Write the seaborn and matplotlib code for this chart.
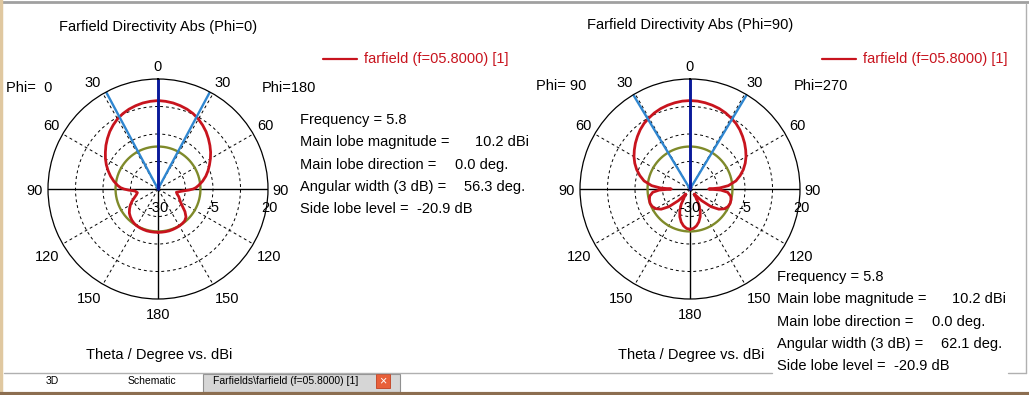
import numpy as np
import pandas as pd
import matplotlib
matplotlib.use("Agg")
import matplotlib.pyplot as plt
from matplotlib.patches import Rectangle
import seaborn as sns

# ---- data ----
theta_deg = [0, 5, 10, 15, 20, 25, 30, 35, 40, 45, 50, 55, 60, 65, 70, 75, 80, 85,
             88, 90, 92, 95, 100, 105, 110, 115, 120, 125, 130, 135, 140, 145,
             150, 155, 160, 165, 170, 175, 180]

# Phi=0 cut: left half (Phi=0) and right half (Phi=180), dBi
phi0_left = [10.2, 10.0, 9.7, 9.2, 8.6, 7.8, 6.8, 5.5, 4.1, 2.5, 0.9, -0.8, -2.4, -4.1,
             -5.9, -7.7, -9.6, -11.6, -13.0, -14.5, -16.5, -19.5, -20.5, -19.8, -18.6,
             -17.0, -15.5, -14.2, -13.0, -12.2, -11.5, -11.0, -10.7, -10.5, -10.4,
             -10.3, -10.3, -10.3, -10.3]
phi0_right = [10.2, 10.0, 9.7, 9.2, 8.6, 7.8, 6.7, 5.4, 4.0, 2.4, 0.8, -0.8, -2.5, -4.2,
              -5.8, -7.5, -9.4, -11.5, -12.8, -14.0, -16.0, -19.0, -21.5, -21.0, -20.0,
              -19.2, -18.2, -16.5, -14.0, -12.0, -11.1, -10.8, -10.6, -10.5, -10.4,
              -10.3, -10.3, -10.3, -10.3]

# Phi=90 cut: left half (Phi=90) and right half (Phi=270), dBi
phi90_left = [10.2, 10.1, 9.8, 9.4, 8.9, 8.2, 7.3, 6.4, 5.2, 3.8, 2.4, 0.9, -0.6, -2.3,
              -4.2, -6.4, -8.8, -12.5, -16.5, -21.5, -16.0, -13.0, -11.4, -10.9, -10.7,
              -11.1, -12.1, -14.0, -17.5, -22.5, -27.0, -25.5, -22.0, -19.0, -16.5,
              -14.5, -13.0, -12.0, -11.7]
phi90_right = [10.2, 10.1, 9.8, 9.4, 8.9, 8.2, 7.3, 6.4, 5.2, 3.8, 2.4, 0.9, -0.6, -2.3,
               -4.2, -6.4, -8.8, -12.5, -16.5, -21.5, -16.0, -12.8, -11.2, -10.7, -10.6,
               -11.0, -12.0, -14.0, -17.5, -22.5, -27.0, -25.5, -22.0, -19.0, -16.5,
               -14.5, -13.0, -12.0, -11.7]

frequency = 5.8
main_lobe_mag = [10.2, 10.2]
main_lobe_dir = [0.0, 0.0]
angular_width = [56.3, 62.1]
side_lobe_level = [-20.9, -20.9]

titles = ["Farfield Directivity Abs (Phi=0)", "Farfield Directivity Abs (Phi=90)"]
phi_labels = [("Phi=  0", "Phi=180"), ("Phi= 90", "Phi=270")]
legend_label = "farfield (f=05.8000) [1]"
r_min, r_mid, r_max = -30, -5, 20
angle_ticks = [0, 30, 60, 90, 120, 150, 180]
# pixel offset of each angle label from the plot centre (right-hand side)
label_offsets = {0: (0, -122), 30: (65, -106), 60: (107, -63), 90: (123, 2),
                 120: (111, 68), 150: (69, 110), 180: (0, 126)}

W, H = 1029, 395
RED = "#c8141e"
OLIVE = "#7f8a2a"
NAVY = "#0a1a9a"
LBLUE = "#2f86d0"

sns.set_style("white")
plt.rcParams["font.family"] = ["Liberation Sans", "DejaVu Sans"]
FS = 10.5


def P(x, y):
    return x / W, 1 - y / H


fig = plt.figure(figsize=(W / 100, H / 100), dpi=100)
fig.patch.set_facecolor("white")


def txt(x, y, s, ha="left", color="black", size=FS):
    fig.text(*P(x, y), s, ha=ha, va="center", color=color, fontsize=size)


panels = [
    dict(cx=158, cy=189, left=phi0_left, right=phi0_right,
         title_y=27, stats_x=300, stats_y=120, leg_x=323, phi_y=88,
         phi_lx=6, phi_rx=262),
    dict(cx=690, cy=189, left=phi90_left, right=phi90_right,
         title_y=25, stats_x=777, stats_y=277, leg_x=822, phi_y=86,
         phi_lx=536, phi_rx=794),
]

R = 110
for i, p in enumerate(panels):
    cx, cy = p["cx"], p["cy"]
    x0, y0 = P(cx - R, cy + R)
    ax = fig.add_axes([x0, y0, 2 * R / W, 2 * R / H], projection="polar")
    ax.set_theta_zero_location("N")
    ax.set_ylim(r_min, r_max)
    ax.set_rgrids([-17.5, -5, 7.5], labels=[])
    ax.set_thetagrids([30, 60, 120, 150, 210, 240, 300, 330], labels=[])
    ax.grid(True, color="black", linestyle=(0, (3, 3)), linewidth=0.7)
    ax.spines["polar"].set_color("black")
    ax.spines["polar"].set_linewidth(0.9)
    ax.set_facecolor("none")

    # axis cross
    ax.plot([np.pi / 2, np.pi / 2], [r_min, r_max], color="black", lw=1.0)
    ax.plot([-np.pi / 2, -np.pi / 2], [r_min, r_max], color="black", lw=1.0)
    ax.plot([np.pi, np.pi], [r_min, r_max], color="black", lw=1.0)

    # side lobe level circle
    sll = main_lobe_mag[i] + side_lobe_level[i]
    circ = np.linspace(0, 2 * np.pi, 361)
    ax.plot(circ, np.full_like(circ, sll), color=OLIVE, lw=1.7)

    # pattern: left half goes counter-clockwise (positive), right half negative
    th = np.radians(theta_deg)
    df = pd.DataFrame({
        "angle": np.concatenate([th[::-1], -th]),
        "dbi": np.concatenate([np.array(p["left"])[::-1], np.array(p["right"])]),
    })
    sns.lineplot(data=df, x="angle", y="dbi", sort=False, estimator=None,
                 color=RED, lw=2.0, ax=ax, legend=False)

    # beamwidth and main lobe direction lines
    half = np.radians(angular_width[i] / 2)
    for a in (half, -half):
        ax.plot([a, a], [r_min, r_max], color=LBLUE, lw=1.7)
    md = np.radians(main_lobe_dir[i])
    ax.plot([md, md], [r_min, r_max], color=NAVY, lw=2.1)

    ax.set_xlabel("")
    ax.set_ylabel("")
    ax.set_ylim(r_min, r_max)

    # angle labels
    for a in angle_ticks:
        dx, dy = label_offsets[a]
        txt(cx + dx, cy + dy, str(a), ha="center")
        if dx:
            txt(cx - dx, cy + dy, str(a), ha="center")

    # radial labels
    txt(cx, cy + 19, str(r_min), ha="center")
    txt(cx + R / 2, cy + 19, str(r_mid), ha="center")
    txt(cx + R + 1, cy + 19, str(r_max), ha="center")

    txt(cx, p["title_y"], titles[i], ha="center")
    txt(cx + 1, cy + 166, "Theta / Degree vs. dBi", ha="center")
    txt(p["phi_lx"], p["phi_y"], phi_labels[i][0])
    txt(p["phi_rx"], p["phi_y"], phi_labels[i][1])

    # legend
    lx = p["leg_x"]
    fig.add_artist(plt.Line2D([lx / W, (lx + 34) / W], [1 - 59 / H] * 2,
                              color=RED, lw=1.6))
    txt(lx + 41, 59, legend_label, color=RED)

    # stats block
    sx, sy = p["stats_x"], p["stats_y"]
    dy = 22.3
    txt(sx, sy, f"Frequency = {frequency}")
    txt(sx, sy + dy, "Main lobe magnitude =")
    txt(sx + 175, sy + dy, f"{main_lobe_mag[i]:.1f} dBi")
    txt(sx, sy + 2 * dy, "Main lobe direction =")
    txt(sx + 155, sy + 2 * dy, f"{main_lobe_dir[i]:.1f} deg.")
    txt(sx, sy + 3 * dy, "Angular width (3 dB) =")
    txt(sx + 164, sy + 3 * dy, f"{angular_width[i]:.1f} deg.")
    txt(sx, sy + 4 * dy, "Side lobe level =")
    txt(sx + 117, sy + 4 * dy, f"{side_lobe_level[i]:.1f} dB")

# window chrome
def line(x1, y1, x2, y2, color, lw):
    fig.add_artist(plt.Line2D([x1 / W, x2 / W], [1 - y1 / H, 1 - y2 / H],
                              color=color, lw=lw))

line(0, 1.5, W, 1.5, "#a0a0a0", 2.0)
line(1, 0, 1, 395, "#e0c8a0", 2.5)
line(1026, 4, 1026, 373, "#b0b0b0", 1.0)
line(4, 373, 772, 373, "#b0b0b0", 1.0)
line(1008, 373, 1026, 373, "#b0b0b0", 1.0)
fig.add_artist(Rectangle(P(203, 392), 197 / W, 18 / H, transform=fig.transFigure,
                         facecolor="#d6d6d6", edgecolor="#909090", lw=0.8))
txt(52, 381, "3D", ha="center", size=7.5)
txt(152, 381, "Schematic", ha="center", size=7.5)
txt(213, 381, "Farfields\\farfield (f=05.8000) [1]", size=7.5)
fig.add_artist(Rectangle(P(376, 388), 14 / W, 14 / H, transform=fig.transFigure,
                         facecolor="#e8603a", edgecolor="#c04020", lw=0.6))
txt(383, 381, "×", ha="center", color="white", size=9)
line(0, 393.5, W, 393.5, "#8c6e50", 3.0)

fig.savefig("out.png", dpi=100, facecolor="white")
